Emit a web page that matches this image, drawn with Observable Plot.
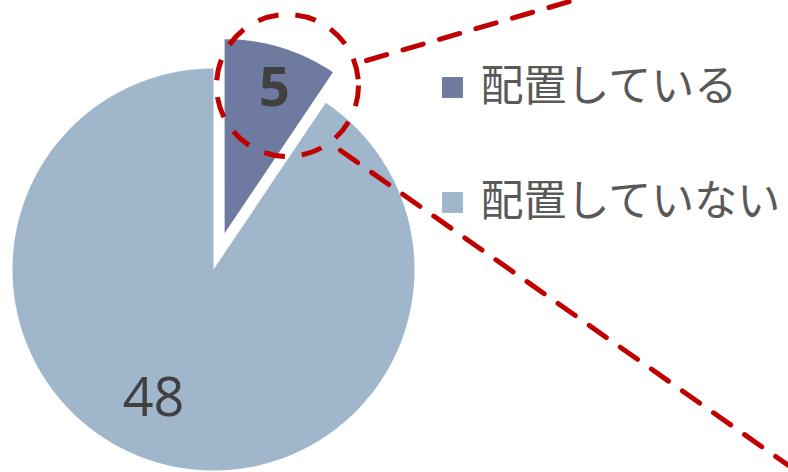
<!DOCTYPE html>
<html>
<head>
<meta charset="utf-8">
<script src="https://cdn.jsdelivr.net/npm/d3@7"></script>
<script src="https://cdn.jsdelivr.net/npm/@observablehq/plot@0.6"></script>
<style>
  html, body { margin: 0; padding: 0; background: #ffffff; }
  #chart svg { display: block; overflow: visible; }
</style>
</head>
<body>
<div id="chart"></div>
<script>
// ---- data ----
const categories = ["配置している", "配置していない"];
const values = [5, 48];
const colors = ["#6E7AA0", "#A0B6CB"];

// ---- layout (pixels) ----
const W = 788, H = 472;
const cx = 213, cy = 269;
const radii = [194, 201];
const explode = [38, 0];
const labelPos = [[274, 88], [153, 398]];
const labelWeight = ["bold", "normal"];

const arcs = d3.pie().sort(null)(values);

const slicePts = [];
arcs.forEach((a, i) => {
  const mid = (a.startAngle + a.endAngle) / 2;
  const ox = cx + explode[i] * Math.sin(mid);
  const oy = cy - explode[i] * Math.cos(mid);
  const r = radii[i];
  const n = Math.max(8, Math.ceil((a.endAngle - a.startAngle) * 60));
  slicePts.push({cat: categories[i], x: ox, y: oy});
  for (let k = 0; k <= n; k++) {
    const t = a.startAngle + (a.endAngle - a.startAngle) * k / n;
    slicePts.push({cat: categories[i], x: ox + r * Math.sin(t), y: oy - r * Math.cos(t)});
  }
  slicePts.push({cat: categories[i], x: ox, y: oy});
});

const labels = arcs.map((a, i) => ({
  text: String(values[i]), x: labelPos[i][0], y: labelPos[i][1], w: labelWeight[i]
}));

const legend = categories.map((c, i) => ({cat: c, x: 452, y: [87, 202][i]}));

// highlight callout
const callout = [{x: 287, y: 85}];
const lines = [
  {id: "a", x: 366, y: 60}, {id: "a", x: 576, y: -1},
  {id: "b", x: 340, y: 150}, {id: "b", x: 788, y: 465}
];

const red = "#C00000";

const chart = Plot.plot({
  width: W, height: H,
  margin: 0,
  x: {domain: [0, W], range: [0, W], axis: null},
  y: {domain: [0, H], range: [0, H], axis: null},
  color: {domain: categories, range: colors},
  marks: [
    Plot.line(slicePts, {x: "x", y: "y", z: "cat", fill: "cat", stroke: "none", curve: "linear"}),
    Plot.text(labels.filter(d => d.w === "bold"), {x: "x", y: "y", text: "text", fontSize: 54, fontWeight: "bold",
      fontFamily: "'Open Sans', 'Liberation Sans', sans-serif", fill: "#404040", textAnchor: "middle", lineAnchor: "middle"}),
    Plot.text(labels.filter(d => d.w !== "bold"), {x: "x", y: "y", text: "text", fontSize: 54, fontWeight: "normal",
      fontFamily: "'Open Sans', 'Liberation Sans', sans-serif", fill: "#404040", textAnchor: "middle", lineAnchor: "middle"}),
    Plot.dot(callout, {x: "x", y: "y", r: 71, fill: "none", stroke: red, strokeWidth: 5, strokeDasharray: "21 17"}),
    Plot.line(lines, {x: "x", y: "y", z: "id", stroke: red, strokeWidth: 5, strokeDasharray: "21 17"}),
    Plot.dot(legend, {x: "x", y: "y", symbol: "square", r: 11.8, fill: "cat", stroke: "none"}),
    Plot.text(legend, {x: 480, y: "y", text: "cat", fontSize: 43, fill: "#595959", textAnchor: "start", lineAnchor: "middle",
      fontFamily: "'Noto Sans CJK JP', sans-serif"})
  ]
});
document.getElementById("chart").appendChild(chart);
</script>
</body>
</html>
